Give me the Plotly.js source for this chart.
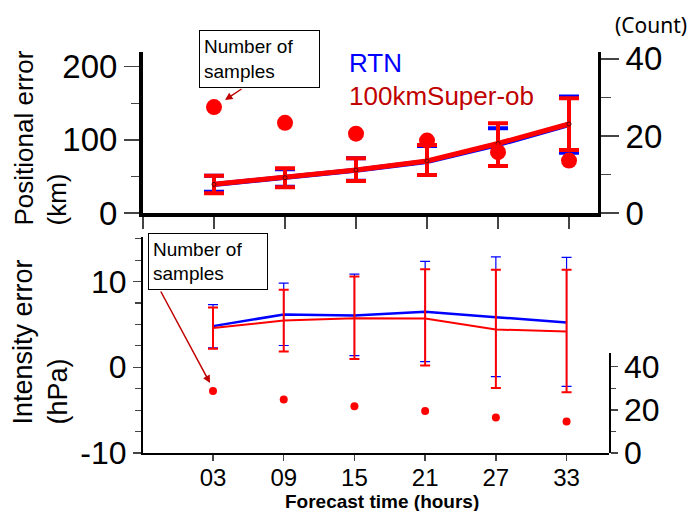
<!DOCTYPE html>
<html>
<head>
<meta charset="utf-8">
<script src="https://cdn.plot.ly/plotly-3.0.1.min.js"></script>
<style>html,body{margin:0;padding:0;background:#fff;}#chart{width:695px;height:511px;}</style>
</head>
<body>
<div id="chart"></div>
<script>
// ---- data ----
const hours = [3, 9, 15, 21, 27, 33];
const hourLabels = ['03', '09', '15', '21', '27', '33'];

// Positional error (km)
const rtnPos = [39.0, 47.8, 58.3, 70.3, 93.5, 121.0];
const rtnPosUpper = [51.0, 59.7, 74.8, 91.5, 115.8, 159.3];
const rtnPosLower = [29.1, 36.0, 44.2, 52.0, 64.3, 82.4];
const superPos = [39.2, 48.3, 58.8, 71.1, 95.0, 121.7];
const superPosUpper = [51.0, 61.1, 74.8, 93.0, 122.6, 156.8];
const superPosLower = [26.9, 35.1, 43.7, 52.0, 64.3, 86.1];
const countTop = [27.5, 23.4, 20.6, 18.8, 15.8, 13.6];

// Intensity error (hPa)
const rtnInt = [4.8, 6.16, 6.05, 6.48, 5.85, 5.23];
const rtnIntUpper = [7.3, 9.82, 10.88, 12.36, 12.87, 12.83];
const rtnIntLower = [2.27, 2.54, 1.37, 0.67, -1.09, -2.22];
const superInt = [4.57, 5.46, 5.73, 5.7, 4.41, 4.17];
const superIntUpper = [6.98, 9.05, 10.6, 11.43, 11.39, 11.39];
const superIntLower = [2.15, 1.84, 0.98, 0.2, -2.41, -2.92];
const countBottom = [28.8, 24.8, 21.7, 19.5, 16.5, 14.6];

// axis tick labels
const posTicks = [0, 100, 200];
const countTicks = [0, 20, 40];
const intTicks = [-10, 0, 10];
const intTickText = ['-10', '0', '10'];

const BLUE = '#0000ff', RED = '#ff0000', DARKRED = '#c00000';
const FONT = 'Liberation Sans, Arial, sans-serif';

function up(v, u) { return u.map((x, i) => x - v[i]); }
function dn(v, l) { return l.map((x, i) => v[i] - x); }

const traces = [
  { x: hours, y: rtnPos, xaxis: 'x', yaxis: 'y', mode: 'lines', line: { color: BLUE, width: 5 },
    error_y: { type: 'data', symmetric: false, array: up(rtnPos, rtnPosUpper), arrayminus: dn(rtnPos, rtnPosLower), color: BLUE, thickness: 4, width: 10 } },
  { x: hours, y: superPos, xaxis: 'x', yaxis: 'y', mode: 'lines+markers', line: { color: RED, width: 5 },
    marker: { symbol: 'circle-open', size: 4, color: '#5a0000', line: { width: 1 } },
    error_y: { type: 'data', symmetric: false, array: up(superPos, superPosUpper), arrayminus: dn(superPos, superPosLower), color: RED, thickness: 4, width: 10 } },
  { x: hours, y: countTop, xaxis: 'x', yaxis: 'y2', mode: 'markers', marker: { color: RED, size: 16 } },
  { x: hours, y: rtnInt, xaxis: 'x2', yaxis: 'y3', mode: 'lines', line: { color: BLUE, width: 2.5 },
    error_y: { type: 'data', symmetric: false, array: up(rtnInt, rtnIntUpper), arrayminus: dn(rtnInt, rtnIntLower), color: BLUE, thickness: 1.2, width: 5 } },
  { x: hours, y: superInt, xaxis: 'x2', yaxis: 'y3', mode: 'lines', line: { color: RED, width: 2 },
    error_y: { type: 'data', symmetric: false, array: up(superInt, superIntUpper), arrayminus: dn(superInt, superIntLower), color: RED, thickness: 2, width: 5 } },
  { x: hours, y: countBottom, xaxis: 'x2', yaxis: 'y4', mode: 'markers', marker: { color: RED, size: 8 } }
];

const W = 466; // plot width in px (143..609)
const px = v => (v - 143) / W;
const py = v => 1 - v / 511;

const tickStyle = { ticks: 'outside', tickcolor: '#444', tickwidth: 1.5, showgrid: false, zeroline: false, showline: true, linecolor: '#000' };

const layout = {
  width: 695, height: 511,
  margin: { l: 143, r: 86, t: 0, b: 0 },
  paper_bgcolor: '#fff', plot_bgcolor: 'rgba(0,0,0,0)',
  showlegend: false,
  font: { family: FONT, color: '#000' },
  xaxis: Object.assign({}, tickStyle, { domain: [0, px(598)], range: [-3, 35.45], anchor: 'y',
    tickmode: 'array', tickvals: [-3].concat(hours), showticklabels: false, ticklen: 12, linewidth: 4 }),
  yaxis: Object.assign({}, tickStyle, { domain: [py(213), py(52)], range: [0, 220.1], anchor: 'x',
    tickmode: 'array', tickvals: posTicks, ticklen: 15, linewidth: 4, tickfont: { size: 33, family: FONT },
    minor: { dtick: 50, tick0: 0, ticks: 'outside', ticklen: 8, tickwidth: 1.5, tickcolor: '#444' } }),
  yaxis2: Object.assign({}, tickStyle, { overlaying: 'y', side: 'right', anchor: 'x', range: [0, 41.8],
    tickmode: 'array', tickvals: countTicks, ticklen: 18, linewidth: 3, tickfont: { size: 33, family: FONT },
    minor: { dtick: 10, tick0: 0, ticks: 'outside', ticklen: 10, tickwidth: 1.5, tickcolor: '#444' } }),
  xaxis2: Object.assign({}, tickStyle, { domain: [0, 1], range: [-2.94, 36.6], anchor: 'y3',
    tickmode: 'array', tickvals: hours, ticktext: hourLabels, ticklen: 6, ticklabelstandoff: -3, linewidth: 1.5, tickfont: { size: 24, family: FONT } }),
  yaxis3: Object.assign({}, tickStyle, { domain: [py(453), py(237)], range: [-10, 15.2], anchor: 'x2',
    tickmode: 'array', tickvals: intTicks, ticktext: intTickText, ticklen: 8, linewidth: 2, tickfont: { size: 32, family: FONT },
    minor: { dtick: 2.5, tick0: 0, ticks: 'outside', ticklen: 6, tickwidth: 1.2, tickcolor: '#444' } }),
  yaxis4: Object.assign({}, tickStyle, { domain: [py(453), py(352.7)], range: [0, 46.5], anchor: 'x2', side: 'right',
    tickmode: 'array', tickvals: countTicks, ticklen: 7, linewidth: 1.5, tickfont: { size: 32, family: FONT },
    minor: { dtick: 10, tick0: 0, ticks: 'outside', ticklen: 5, tickwidth: 1.2, tickcolor: '#444' } }),
  annotations: [
    { xref: 'paper', yref: 'paper', x: px(40), y: py(138.5), xanchor: 'center', yanchor: 'middle', textangle: -90,
      text: 'Positional error<br>(km)', align: 'left', showarrow: false, font: { size: 26, family: FONT, color: '#000' } },
    { xref: 'paper', yref: 'paper', x: px(40), y: py(342.5), xanchor: 'center', yanchor: 'middle', textangle: -90,
      text: 'Intensity error<br>(hPa)', align: 'left', showarrow: false, font: { size: 27, family: FONT, color: '#000' } },
    { xref: 'paper', yref: 'paper', x: px(381.5), y: py(501), xanchor: 'center', yanchor: 'middle',
      text: '<b>Forecast time (hours)</b>', showarrow: false, font: { size: 19, family: FONT, color: '#000' } },
    { xref: 'paper', yref: 'paper', x: px(651), y: py(25), xanchor: 'center', yanchor: 'middle',
      text: '(Count)', showarrow: false, font: { size: 21, family: 'Noto Sans, sans-serif', color: '#000' } },
    { xref: 'paper', yref: 'paper', x: px(347), y: py(63), xanchor: 'left', yanchor: 'middle',
      text: 'RTN', showarrow: false, font: { size: 26, family: FONT, color: BLUE } },
    { xref: 'paper', yref: 'paper', x: px(347), y: py(96), xanchor: 'left', yanchor: 'middle',
      text: '100kmSuper-ob', showarrow: false, font: { size: 26, family: FONT, color: DARKRED } },
    // arrows
    { xref: 'paper', yref: 'paper', x: px(225), y: py(100), ax: 18, ay: -12, text: '', showarrow: true,
      arrowhead: 2, arrowsize: 1, arrowwidth: 1.5, arrowcolor: DARKRED, standoff: 0, startstandoff: 0 },
    { xref: 'paper', yref: 'paper', x: px(210), y: py(383), ax: -50, ay: -93, text: '', showarrow: true,
      arrowhead: 2, arrowsize: 1, arrowwidth: 1.5, arrowcolor: DARKRED, standoff: 0, startstandoff: 0 },
    // boxes
    { xref: 'paper', yref: 'paper', x: px(199), y: py(30), xanchor: 'left', yanchor: 'top',
      text: 'Number of<br>samples', align: 'left', showarrow: false, width: 111, height: 48, borderpad: 4,
      bordercolor: '#000', borderwidth: 1, bgcolor: '#fff', font: { size: 19, family: FONT, color: '#000' } },
    { xref: 'paper', yref: 'paper', x: px(148), y: py(233), xanchor: 'left', yanchor: 'top',
      text: 'Number of<br>samples', align: 'left', showarrow: false, width: 110, height: 47, borderpad: 4,
      bordercolor: '#000', borderwidth: 1, bgcolor: '#fff', font: { size: 19, family: FONT, color: '#000' } }
  ]
};

Plotly.newPlot('chart', traces, layout, { staticPlot: true, displayModeBar: false });
</script>
</body>
</html>
